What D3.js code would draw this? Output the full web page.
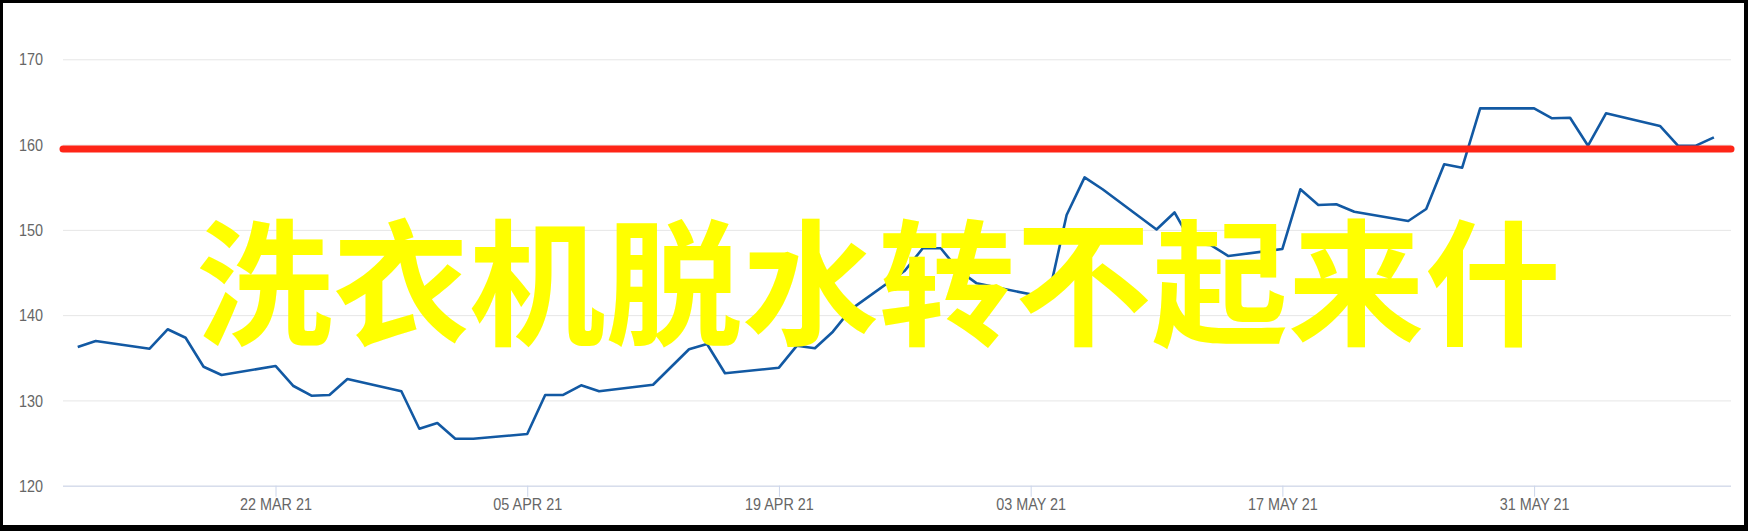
<!DOCTYPE html>
<html><head><meta charset="utf-8">
<script src="https://cdn.jsdelivr.net/npm/d3@7"></script>
<style>body{margin:0;background:#fff}svg{display:block}</style>
</head><body><svg id="c" width="1748" height="531"></svg>
<script>
// ---- data ----
const dates = [
 "2021-03-11","2021-03-12","2021-03-15","2021-03-16","2021-03-17","2021-03-18","2021-03-19",
 "2021-03-22","2021-03-23","2021-03-24","2021-03-25","2021-03-26",
 "2021-03-29","2021-03-30","2021-03-31","2021-04-01","2021-04-02",
 "2021-04-05","2021-04-06","2021-04-07","2021-04-08","2021-04-09",
 "2021-04-12","2021-04-13","2021-04-14","2021-04-15","2021-04-16",
 "2021-04-19","2021-04-20","2021-04-21","2021-04-22","2021-04-23",
 "2021-04-26","2021-04-27","2021-04-28","2021-04-29","2021-04-30",
 "2021-05-03","2021-05-04","2021-05-05","2021-05-06","2021-05-07",
 "2021-05-10","2021-05-11","2021-05-12","2021-05-13","2021-05-14",
 "2021-05-17","2021-05-18","2021-05-19","2021-05-20","2021-05-21",
 "2021-05-24","2021-05-25","2021-05-26","2021-05-27","2021-05-28",
 "2021-05-31","2021-06-01","2021-06-02","2021-06-03","2021-06-04",
 "2021-06-07","2021-06-08","2021-06-09","2021-06-10"
];
const prices = [
 136.26,136.97,136.06,138.34,137.35,133.95,132.98,
 134.04,131.69,130.55,130.64,132.51,
 131.07,126.68,127.35,125.51,125.51,
 126.06,130.64,130.64,131.77,131.07,
 131.84,133.92,136.00,136.62,133.18,
 133.84,136.42,136.11,138.06,140.68,
 145.20,147.84,147.84,145.26,143.73,
 142.44,142.28,151.74,156.16,154.76,
 150.04,152.04,148.34,148.23,146.93,
 147.76,154.76,152.92,153.00,152.13,
 151.04,152.45,157.69,157.29,164.25,
 164.25,163.08,163.15,159.87,163.67,
 162.18,159.87,159.87,160.85
];
const yTicks = [120,130,140,150,160,170];
const xTickDates = ["2021-03-22","2021-04-05","2021-04-19","2021-05-03","2021-05-17","2021-05-31"];
const xTickLabels = ["22 MAR 21","05 APR 21","19 APR 21","03 MAY 21","17 MAY 21","31 MAY 21"];
const thresholdValue = 159.48;
const overlayText = "洗衣机脱水转不起来什";
const xDomain = ["2021-03-10T04:21:00Z","2021-06-10T22:50:00Z"];
const yDomain = [120,170];

// ---- layout ----
const W = 1748, H = 531;
const plot = {left:63, right:1731, top:59.3, bottom:485.7};
const parse = d3.utcParse("%Y-%m-%d");
const svg = d3.select("#c");

// frame
svg.append("rect").attr("x",0).attr("y",0).attr("width",W).attr("height",H).attr("fill","#000");
svg.append("rect").attr("x",3).attr("y",3).attr("width",1741).attr("height",522).attr("fill","#fff");

const x = d3.scaleUtc().domain(xDomain.map(d=>new Date(d))).range([plot.left, plot.right]);
const y = d3.scaleLinear().domain(yDomain).range([plot.bottom, plot.top]);

const FS = 16, SX = 0.9;
const fontFam = "'Liberation Sans', Arial, Helvetica, sans-serif";

// y axis with gridlines
const yAxis = d3.axisLeft(y).tickValues(yTicks).tickSize(-(plot.right-plot.left)).tickFormat(d3.format("d"));
const gy = svg.append("g").attr("transform",`translate(${plot.left},0)`).call(yAxis);
gy.select(".domain").remove();
gy.selectAll(".tick line").attr("stroke","#e6e6e6").attr("stroke-width",1);
gy.selectAll(".tick text")
  .attr("font-family",fontFam).attr("font-size",FS).attr("fill","#666666")
  .attr("text-anchor","end").attr("dy",null).attr("y",5.6)
  .attr("x",-20/SX).attr("transform",`scale(${SX},1)`);

// x axis
const xAxis = d3.axisBottom(x).tickValues(xTickDates.map(parse)).tickSize(11)
  .tickFormat((d,i)=>xTickLabels[i]);
const gx = svg.append("g").attr("transform",`translate(0,${plot.bottom})`).call(xAxis);
gx.select(".domain").attr("stroke","#ccd6eb").attr("d",`M${plot.left},0.5H${plot.right}`);
gx.selectAll(".tick line").attr("stroke","#ccd6eb");
gx.selectAll(".tick text")
  .attr("font-family",fontFam).attr("font-size",FS).attr("fill","#666666")
  .attr("dy",null).attr("y",24.3).attr("transform",`scale(${SX},1)`);

// series line
const series = dates.map((d,i)=>({date:parse(d), v:prices[i]}));
const line = d3.line().x(d=>x(d.date)).y(d=>y(d.v));
svg.append("path").datum(series).attr("d",line)
  .attr("fill","none").attr("stroke","#1259a3").attr("stroke-width",2.6)
  .attr("stroke-linejoin","round");

// red threshold line
svg.append("line")
  .attr("x1",x(new Date(xDomain[0]))).attr("x2",x(new Date(xDomain[1])))
  .attr("y1",y(thresholdValue)).attr("y2",y(thresholdValue))
  .attr("stroke","#fe2517").attr("stroke-width",7).attr("stroke-linecap","round");

// overlay text
svg.append("text").attr("x",196).attr("y",335)
  .attr("font-family","'Noto Sans CJK SC', sans-serif").attr("font-weight","bold")
  .attr("font-size",136.5).attr("fill","#ffff00").text(overlayText);
</script></body></html>
